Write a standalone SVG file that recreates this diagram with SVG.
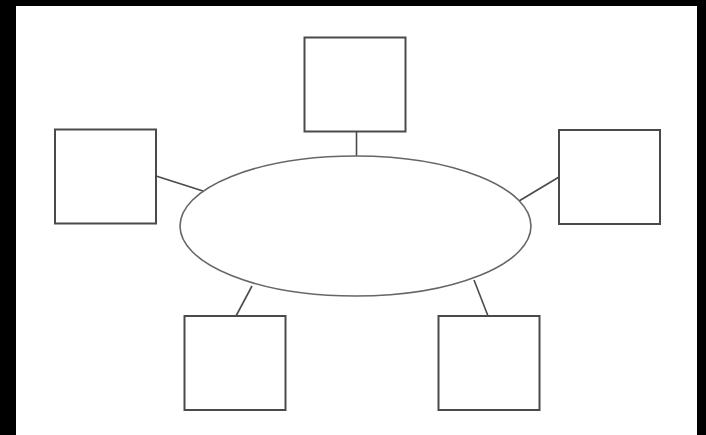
<svg xmlns="http://www.w3.org/2000/svg" width="706" height="435" viewBox="0 0 706 435">
<style>
.box{fill:#fff;stroke:#4a4a4a;stroke-width:2}
.hub{fill:#fff;stroke:#666;stroke-width:1.6}
.con{stroke:#4a4a4a;stroke-width:1.6;fill:none}
</style>
<rect x="0" y="0" width="706" height="435" fill="#000"/>
<rect x="16" y="6" width="681" height="429" fill="#fff"/>
<g id="connectors">
<line class="con" x1="356.5" y1="132" x2="356.5" y2="156"/>
<line class="con" x1="156" y1="176" x2="203" y2="191"/>
<line class="con" x1="559" y1="177" x2="519" y2="201"/>
<line class="con" x1="236" y1="316" x2="252" y2="286"/>
<line class="con" x1="488" y1="316" x2="474" y2="280"/>
</g>
<g id="hub"><ellipse class="hub" cx="355.5" cy="226" rx="175.5" ry="70"/></g>
<g id="top"><rect class="box" x="304.5" y="37.5" width="101" height="94"/></g>
<g id="left"><rect class="box" x="55" y="129.5" width="101" height="94"/></g>
<g id="right"><rect class="box" x="559" y="130" width="101" height="94"/></g>
<g id="bottom-left"><rect class="box" x="184.5" y="316" width="101" height="94"/></g>
<g id="bottom-right"><rect class="box" x="438.5" y="316" width="101" height="94"/></g>
</svg>
